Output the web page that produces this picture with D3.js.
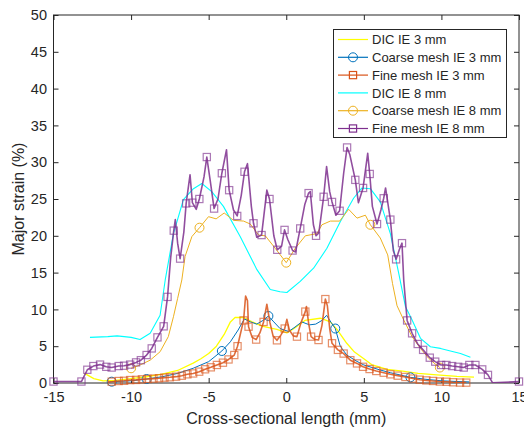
<!DOCTYPE html>
<html>
<head>
<meta charset="utf-8">
<script src="https://cdn.jsdelivr.net/npm/d3@7"></script>
<style>
  body { margin: 0; background: #fff; }
  text { font-family: "Liberation Sans", Arial, sans-serif; fill: #262626; }
</style>
</head>
<body>
<svg id="chart" width="524" height="430"></svg>
<script>
// Axis ticks
const xTicks = [-15, -10, -5, 0, 5, 10, 15];
const yTicks = [0, 5, 10, 15, 20, 25, 30, 35, 40, 45, 50];

// Series names (legend order)
const seriesNames = ["DIC IE 3 mm", "Coarse mesh IE 3 mm", "Fine mesh IE 3 mm",
                     "DIC IE 8 mm", "Coarse mesh IE 8 mm", "Fine mesh IE 8 mm"];

// DIC measurement, IE 3 mm  [x (mm), strain (%)]
const dic3 = [[-13.0,1.3],[-12.4,0.6],[-11.8,0.3],[-11,0.35],[-10,0.6],[-9,0.85],[-8,1.2],[-7,1.7],
  [-6,2.7],[-5.5,3.3],[-5,4.0],[-4.5,5.0],[-4,6.6],[-3.6,8.3],[-3.3,8.9],[-2.75,8.9],[-2.2,8.3],
  [-1.5,7.7],[-0.6,7.3],[0.04,6.8],[0.5,7.4],[1.2,8.5],[2.2,8.8],[2.84,8.3],[3.3,7.2],[3.9,5.4],
  [4.4,4.2],[5.0,3.3],[5.5,2.5],[6.5,1.86],[7.5,1.6],[8.5,1.3],[9.7,1.1],[11,0.9],[12.1,0.8]];

// Coarse mesh, IE 3 mm  [x, strain, marker flag]
const coarse3 = [[-11.5,0.1,0],[-11.25,0.18,1],[-10,0.3,0],[-9,0.54,1],[-8,0.85,0],[-7,1.3,0],
  [-6,2.0,0],[-5,2.9,0],[-4.15,4.35,1],[-3.6,5.6,0],[-3.1,7.2,0],[-2.7,8.7,0],[-2.3,8.3,0],
  [-1.9,8.0,0],[-1.5,8.5,0],[-1.15,9.1,1],[-0.8,8.3,0],[-0.4,7.4,0],[0.15,7.0,0],[0.5,7.5,0],
  [1.0,8.3,0],[1.5,7.9,0],[1.9,8.0,0],[2.3,8.5,0],[2.6,9.2,0],[2.9,8.2,0],[3.16,7.4,1],
  [3.48,5.0,0],[3.9,3.8,0],[4.5,3.0,0],[5.0,2.45,0],[6.0,1.8,0],[6.7,1.4,0],[8.0,0.77,1],
  [9.0,0.5,0],[10,0.3,0],[11,0.2,0],[11.8,0.15,0]];

// Fine mesh, IE 3 mm  [x, strain, marker flag]
const fine3 = [[-11.5,0.12,0],[-11.25,0.18,1],[-10.8,0.27,1],[-10.45,0.3,1],[-10.06,0.4,1],
  [-9.68,0.42,1],[-9.3,0.5,1],[-8.94,0.55,1],[-8.56,0.6,1],[-8.2,0.65,1],[-7.85,0.73,1],
  [-7.5,0.78,1],[-7.1,0.86,1],[-6.73,0.99,1],[-6.37,1.18,1],[-6.0,1.3,1],[-5.61,1.54,1],
  [-5.23,1.86,1],[-4.86,2.13,1],[-4.47,2.45,1],[-4.08,2.76,1],[-3.72,3.2,1],[-3.35,3.8,1],
  [-3.14,5.0,1],[-2.75,8.5,1],[-2.62,11.8,0],[-2.5,11.2,0],[-2.43,7.65,1],[-2.2,6.2,0],
  [-1.94,5.9,1],[-1.7,6.8,0],[-1.46,8.3,1],[-1.25,10.7,0],[-1.05,8.2,0],[-0.85,6.4,0],
  [-0.6,5.8,1],[-0.35,6.5,0],[-0.1,7.4,1],[0.04,8.65,0],[0.2,7.2,0],[0.45,6.4,0],[0.69,6.3,1],
  [0.95,8.2,0],[1.23,9.7,1],[1.3,10.4,0],[1.45,8.0,0],[1.6,6.3,1],[1.85,5.9,0],[2.08,5.84,1],
  [2.3,7.8,0],[2.52,11.4,1],[2.65,10.5,0],[2.8,7.4,0],[2.95,5.4,1],[3.33,4.5,1],[3.7,4.0,1],
  [4.13,3.1,1],[4.56,2.66,1],[4.95,2.2,1],[5.37,1.9,1],[5.8,1.63,1],[6.28,1.4,1],[6.71,1.18,1],
  [7.18,1.0,1],[7.68,0.82,1],[8.17,0.6,1],[8.6,0.45,1],[9.03,0.35,1],[9.46,0.28,1],[9.9,0.2,1],
  [10.33,0.17,1],[10.75,0.1,1],[11.2,0.06,1],[11.6,0.05,1]];

// DIC measurement, IE 8 mm
const dic8 = [[-12.65,6.2],[-11.5,6.3],[-10.9,6.4],[-10,6.2],[-9.42,5.9],[-8.77,6.75],[-8.13,9.2],
  [-7.8,14.0],[-7.27,20.3],[-6.63,24.9],[-5.98,26.4],[-5.44,27.1],[-4.8,26.0],[-4.05,24.0],
  [-2.97,19.9],[-1.89,15.4],[-1.03,12.7],[-0.4,12.4],[0.04,12.3],[0.9,13.8],[1.76,15.6],
  [2.62,18.3],[3.48,21.9],[4.34,25.1],[4.88,26.5],[5.42,26.4],[6.06,24.6],[6.71,20.3],
  [7.25,14.9],[7.68,10.4],[8.11,8.56],[8.65,6.07],[9.29,4.93],[9.94,4.7],[10.58,4.35],
  [11.23,4.0],[11.87,3.5]];

// Coarse mesh, IE 8 mm
const coarse8 = [[-10.0,2.0,1],[-9.42,2.45,0],[-8.77,3.1,0],[-8.13,4.25,0],[-7.6,6.3,0],
  [-7.27,9.0,0],[-7.0,11.5,0],[-6.73,14.0,0],[-6.52,17.2,0],[-6.08,19.9,0],[-5.59,21.1,1],
  [-5.01,22.6,0],[-4.52,22.3,0],[-4.0,23.1,0],[-3.4,22.1,0],[-2.75,22.0,0],[-2.32,21.6,0],
  [-1.78,20.1,0],[-1.35,20.0,0],[-0.71,18.3,0],[0,16.35,1],[0.58,18.3,0],[1.23,20.0,0],
  [1.98,20.3,0],[2.3,21.5,0],[2.84,22.0,0],[3.44,22.0,0],[4.02,23.6,0],[4.56,22.4,0],
  [5.1,22.8,0],[5.42,21.5,1],[6.06,19.7,0],[6.54,17.4,0],[6.85,13.5,0],[7.14,10.5,0],
  [7.57,8.56,0],[8.11,6.3,0],[8.65,4.7,0],[9.18,3.35,0],[9.6,2.58,0],[9.9,2.1,1]];

// Fine mesh, IE 8 mm
const fine8 = [[-15,0.2,1],[-13.2,0.2,1],[-12.82,1.8,1],[-12.43,2.3,1],[-12.0,2.5,1],[-11.6,2.2,1],
  [-11.25,2.1,1],[-10.8,2.3,1],[-10.45,2.35,1],[-10.06,2.5,1],[-9.68,2.8,1],[-9.37,3.1,1],
  [-9.0,3.8,1],[-8.67,4.7,1],[-8.3,6.2,1],[-7.9,7.7,1],[-7.65,11.7,1],[-7.45,17.0,0],
  [-7.25,20.7,1],[-7.15,22.2,0],[-7.0,19.0,0],[-6.84,16.9,1],[-6.6,20.5,0],[-6.45,24.4,1],
  [-6.2,28.3,0],[-6.05,24.5,1],[-5.8,23.6,0],[-5.6,25.0,1],[-5.3,28.0,0],[-5.12,30.7,1],
  [-4.9,27.5,0],[-4.65,23.7,1],[-4.4,25.0,0],[-4.15,28.5,1],[-3.85,31.7,0],[-3.68,26.2,1],
  [-3.4,23.5,0],[-3.16,22.7,1],[-2.9,25.5,0],[-2.69,28.7,1],[-2.5,29.8,0],[-2.25,24.0,0],
  [-2.11,21.7,1],[-1.9,19.8,0],[-1.59,20.1,1],[-1.25,26.2,0],[-1.08,25.0,1],[-0.8,20.0,0],
  [-0.58,18.1,1],[-0.3,18.6,0],[-0.11,20.8,1],[0.1,19.5,0],[0.41,18.0,1],[0.6,17.8,0],
  [0.9,21.0,1],[1.2,24.3,0],[1.44,25.8,1],[1.55,26.0,0],[1.75,21.5,0],[1.92,20.0,1],
  [2.1,20.4,0],[2.41,25.3,1],[2.6,29.4,0],[2.8,26.0,0],[2.95,24.6,1],[3.2,22.8,0],
  [3.44,23.4,1],[3.7,28.5,0],[3.92,32.0,1],[4.1,31.0,0],[4.45,27.6,1],[4.65,24.5,0],
  [4.95,26.5,1],[5.25,31.2,0],[5.38,28.4,1],[5.55,24.0,0],[5.85,21.6,1],[6.1,23.5,0],
  [6.28,25.1,1],[6.4,26.5,0],[6.71,22.2,1],[6.9,18.0,0],[7.08,16.8,1],[7.3,18.2,0],
  [7.46,19.0,1],[7.57,14.0,0],[7.79,8.5,1],[8.11,6.75,1],[8.47,5.3,1],[8.82,4.5,1],
  [9.25,3.44,1],[9.6,2.9,1],[9.98,2.45,1],[10.32,2.45,1],[10.69,2.3,1],[11.08,2.2,1],
  [11.44,2.1,1],[11.8,2.45,1],[12.19,2.45,1],[12.63,1.85,1],[13.0,1.1,1],[13.3,0.02,0],
  [15,0.2,1]];

const colors = ["#FFFF00", "#0072BD", "#D95319", "#00FFFF", "#EDB120", "#7E2F8E"];
const markers = [null, "circle", "square", null, "circle", "square"];
const datasets = [dic3, coarse3, fine3, dic8, coarse8, fine8];
const widths = [1.3, 1, 1.6, 1.1, 1, 1.6];

const svg = d3.select("#chart");
const L = 53.5, R = 519, T = 15, B = 383;
const x = d3.scaleLinear().domain([-15, 15]).range([L, R]);
const y = d3.scaleLinear().domain([0, 50]).range([B, T]);

// Axes with inward ticks on all four sides
const axisColor = "#262626";
function styleAxis(g) {
  g.select(".domain").remove();
  g.selectAll(".tick line").attr("stroke", axisColor);
  g.selectAll(".tick text").attr("fill", axisColor).style("font-size", "14.5px")
    .style("font-family", "'Liberation Sans', Arial, sans-serif");
}
svg.append("g").attr("transform", `translate(0,${B})`)
  .call(d3.axisBottom(x).tickValues(xTicks).tickSize(-5).tickPadding(9).tickFormat(d3.format("d")))
  .call(styleAxis);
svg.append("g").attr("transform", `translate(0,${T})`)
  .call(d3.axisTop(x).tickValues(xTicks).tickSize(-5).tickFormat(""))
  .call(styleAxis);
svg.append("g").attr("transform", `translate(${L},0)`)
  .call(d3.axisLeft(y).tickValues(yTicks).tickSize(-5).tickPadding(6.5).tickFormat(d3.format("d")))
  .call(styleAxis);
svg.append("g").attr("transform", `translate(${R},0)`)
  .call(d3.axisRight(y).tickValues(yTicks).tickSize(-5).tickFormat(""))
  .call(styleAxis);

// Plain hyphen for negative tick labels
svg.selectAll(".tick text").text(function() { return d3.select(this).text().replace("\u2212", "-"); });

svg.append("rect").attr("x", L).attr("y", T).attr("width", R - L).attr("height", B - T)
  .attr("fill", "none").attr("stroke", axisColor).attr("stroke-width", 1);

// Clip for lines
svg.append("clipPath").attr("id", "plotclip").append("rect")
  .attr("x", L).attr("y", T).attr("width", R - L).attr("height", B - T);

const line = d3.line().x(d => x(d[0])).y(d => y(d[1]));

function drawMarker(g, shape, cx, cy, color, opacity) {
  if (shape === "circle") {
    g.append("circle").attr("cx", cx).attr("cy", cy).attr("r", 4.5)
      .attr("fill", "none").attr("stroke", color).attr("stroke-width", 1).attr("stroke-opacity", opacity);
  } else if (shape === "square") {
    g.append("rect").attr("x", cx - 3.6).attr("y", cy - 3.6).attr("width", 7.2).attr("height", 7.2)
      .attr("fill", "none").attr("stroke", color).attr("stroke-width", 1.2).attr("stroke-opacity", opacity);
  }
}

datasets.forEach((data, i) => {
  const g = svg.append("g");
  g.append("path").datum(data).attr("d", line).attr("fill", "none")
    .attr("stroke", colors[i]).attr("stroke-width", widths[i])
    .attr("stroke-opacity", markers[i] === "square" ? 0.85 : 1)
    .attr("stroke-linejoin", "round")
    .attr("clip-path", "url(#plotclip)");
  if (markers[i]) {
    data.filter(d => d[2] === 1).forEach(d => {
      drawMarker(g, markers[i], x(d[0]), y(d[1]), colors[i], markers[i] === "square" ? 0.65 : 1);
    });
  }
});

// Axis labels
svg.append("text").attr("x", (L + R) / 2).attr("y", 424).attr("text-anchor", "middle")
  .style("font-size", "16px").text("Cross-sectional length (mm)");
svg.append("text").attr("transform", `translate(24,${(T + B) / 2}) rotate(-90)`)
  .attr("text-anchor", "middle").style("font-size", "16px").text("Major strain (%)");

// Legend
const lg = svg.append("g");
lg.append("rect").attr("x", 333.5).attr("y", 29.5).attr("width", 173).attr("height", 108)
  .attr("fill", "#fff").attr("stroke", axisColor).attr("stroke-width", 1);
seriesNames.forEach((name, i) => {
  const cy = 39.5 + i * 17.8;
  lg.append("line").attr("x1", 338).attr("x2", 368).attr("y1", cy).attr("y2", cy)
    .attr("stroke", colors[i]).attr("stroke-width", 1.2);
  if (markers[i]) drawMarker(lg, markers[i], 353, cy, colors[i], 1);
  lg.append("text").attr("x", 372).attr("y", cy + 4.6).style("font-size", "13px").text(name);
});
</script>
</body>
</html>
